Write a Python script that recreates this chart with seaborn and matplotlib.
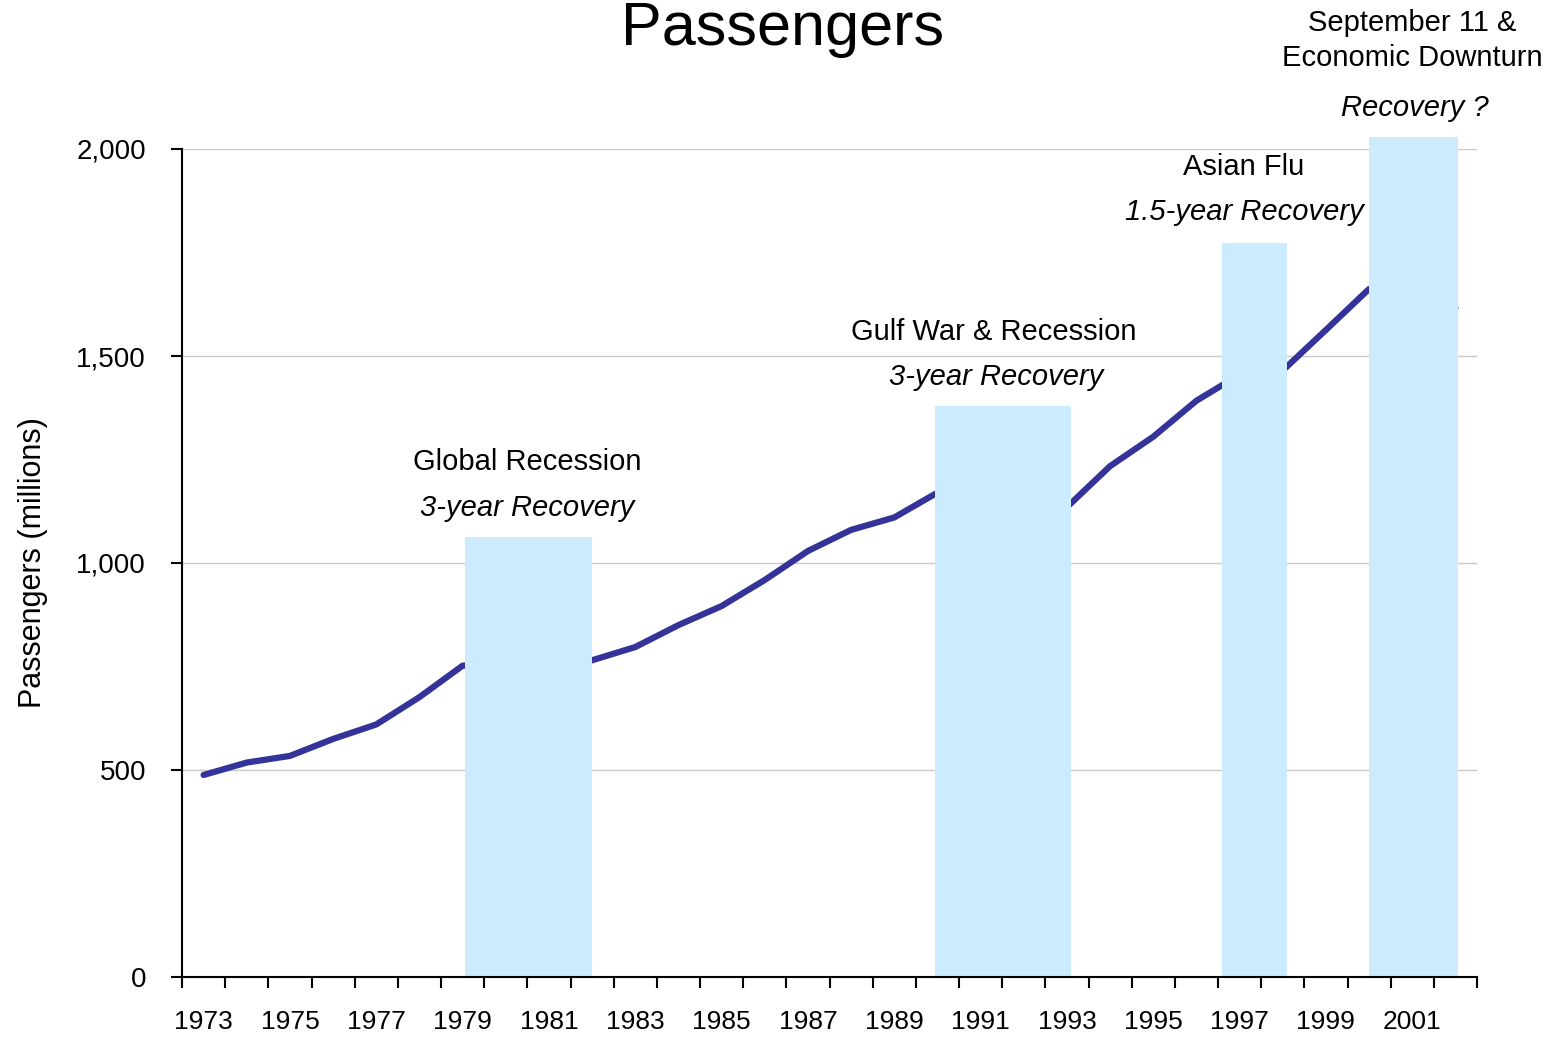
import numpy as np
import pandas as pd
import matplotlib
matplotlib.use("Agg")
import matplotlib.pyplot as plt
from matplotlib.ticker import FuncFormatter, MultipleLocator
import seaborn as sns


# ---------------- DATA ----------------
years = list(range(1973, 2003))
passengers = [488, 518, 534, 575, 610, 676, 752, 758, 752, 765,
              797, 850, 896, 959, 1029, 1080, 1110, 1170, 1135, 1145,
              1135, 1234, 1305, 1392, 1455, 1465, 1563, 1662, 1635, 1615]

# shaded crisis periods (start year, end year, bar height)
crisis_start = [1979.05, 1989.95, 1996.6, 2000.0]
crisis_end = [1982.0, 1993.1, 1998.1, 2002.05]
crisis_height = [1063, 1379, 1773, 2029]

labels_top = ["Global Recession", "Gulf War & Recession", "Asian Flu",
              "September 11 &\nEconomic Downturn"]
labels_recovery = ["3-year Recovery", "3-year Recovery", "1.5-year Recovery",
                   "Recovery ?"]

df = pd.DataFrame({"year": years, "passengers": passengers})


# ---------------- STYLE ----------------
sns.set_style("white")
plt.rcParams["font.family"] = ["Liberation Sans", "DejaVu Sans"]
plt.rcParams["text.color"] = "black"
plt.rcParams["axes.labelcolor"] = "black"
plt.rcParams["xtick.color"] = "black"
plt.rcParams["ytick.color"] = "black"

fig = plt.figure(figsize=(15.66, 10.37), dpi=100)
ax = fig.add_axes([182 / 1566, 1 - 977 / 1037, 1295 / 1566, 828 / 1037])


# ---------------- PLOT ----------------
sns.lineplot(data=df, x="year", y="passengers", ax=ax, color="#333399",
             linewidth=4.5, zorder=2)

widths = [e - s for s, e in zip(crisis_start, crisis_end)]
ax.bar(crisis_start, crisis_height, width=widths, align="edge",
       color="#CCEBFF", zorder=3, clip_on=False, linewidth=0)

# annotations
top_pos = [(1980.5, 1244), (1991.3, 1558), (1997.1, 1957), (2001.0, 2262)]
rec_pos = [(1980.5, 1133), (1991.35, 1449), (1997.1, 1848), (2001.05, 2099)]
for (x, y), txt in zip(top_pos, labels_top):
    ax.text(x, y, txt, ha="center", va="center", fontsize=21,
            linespacing=1.35, clip_on=False)
for (x, y), txt in zip(rec_pos, labels_recovery):
    ax.text(x, y, txt, ha="center", va="center", fontsize=21,
            style="italic", clip_on=False)

fig.text(0.5, 1 - 45 / 1037, "Passengers", ha="center", va="baseline",
         fontsize=44)


# ---------------- AXES ----------------
ax.set_xlim(1972.5, 2002.5)
ax.set_ylim(0, 2000)
ax.set_xticks(years[::2])
ax.set_xticklabels([str(y) for y in years[::2]])
ax.xaxis.set_minor_locator(MultipleLocator(1, offset=0.5))
ax.yaxis.set_major_locator(MultipleLocator(500))
ax.yaxis.set_major_formatter(FuncFormatter(lambda v, p: f"{int(v):,}"))

ax.tick_params(axis="x", which="major", length=0, pad=24, labelsize=19)
ax.tick_params(axis="x", which="minor", length=8, width=1.5,
               direction="out", bottom=True, color="black")
ax.tick_params(axis="y", which="major", length=8, width=1.5,
               direction="out", left=True, pad=18, labelsize=20, color="black")

ax.grid(axis="y", color="#C8C8C8", linewidth=1)
ax.grid(axis="x", visible=False)
ax.set_axisbelow(True)

for side in ["top", "right"]:
    ax.spines[side].set_visible(False)
for side in ["left", "bottom"]:
    ax.spines[side].set_color("black")
    ax.spines[side].set_linewidth(1.5)
    ax.spines[side].set_zorder(5)

ax.set_xlabel("")
ax.set_ylabel("Passengers (millions)", fontsize=22, labelpad=20)

plt.savefig("out.png", dpi=100)
plt.close()
